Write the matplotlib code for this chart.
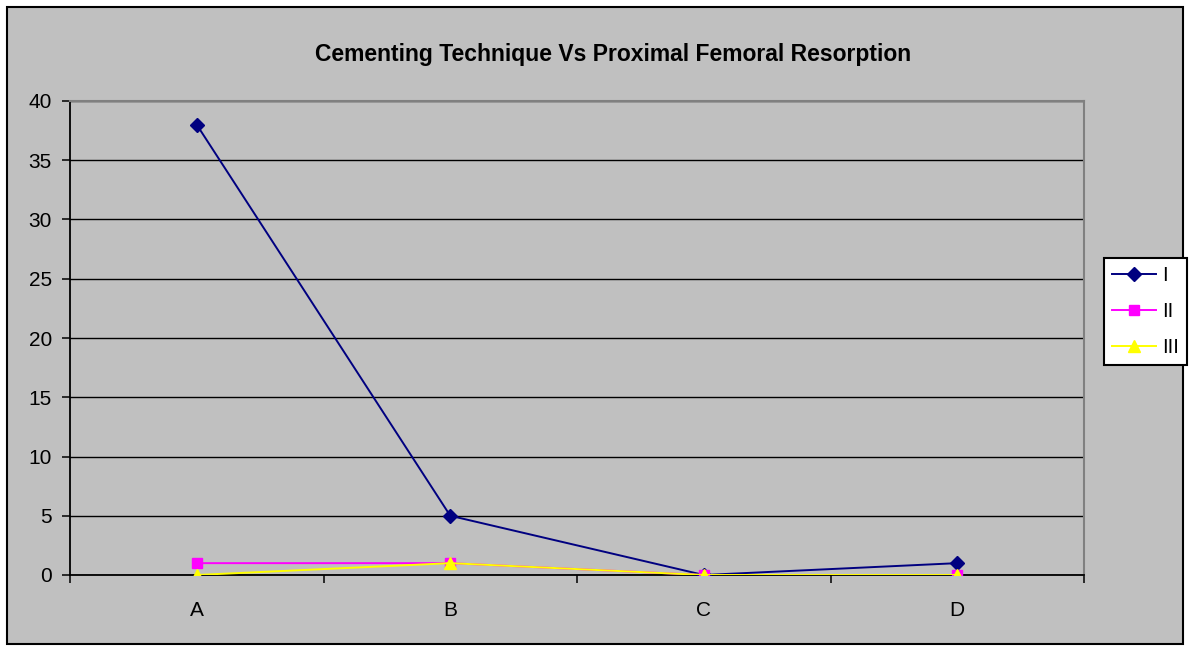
import numpy as np
import matplotlib.pyplot as plt
from matplotlib.patches import Rectangle

plt.rcParams['font.family'] = ['Liberation Sans', 'DejaVu Sans']

categories = ['A', 'B', 'C', 'D']
series_I = [38, 5, 0, 1]
series_II = [1, 1, 0, 0]
series_III = [0, 1, 0, 0]
yticks = [0, 5, 10, 15, 20, 25, 30, 35, 40]

fig = plt.figure(figsize=(11.9, 6.48), dpi=100)
fig.patch.set_facecolor('white')
# chart area frame
fig.patches.append(Rectangle((7/1190, 4/648), 1176/1190, 637/648, transform=fig.transFigure,
                             facecolor='#C0C0C0', edgecolor='black', linewidth=1.5, zorder=-1))

ax = fig.add_axes([70/1190, 1 - 575/648, (1084 - 70)/1190, (575 - 101)/648])
ax.set_facecolor('#C0C0C0')
x = np.arange(len(categories))

ax.plot(x, series_I, color='#000080', marker='D', markersize=7.5, linewidth=1.4, label='I', zorder=3)
ax.plot(x, series_II, color='#FF00FF', marker='s', markersize=7.5, linewidth=1.4, label='II', zorder=4)
ax.plot(x, series_III, color='#FFFF00', marker='^', markersize=9, linewidth=1.4, label='III', zorder=5)

ax.set_xlim(-0.5, 3.5)
ax.set_ylim(0, 40)
ax.set_yticks(yticks)
ax.set_yticklabels([str(v) for v in yticks], fontsize=15)
ax.set_xticks(x)
ax.set_xticklabels(categories, fontsize=15)
ax.set_xticks(np.arange(-0.5, 4, 1), minor=True)
ax.tick_params(axis='x', which='major', length=0, pad=19)
ax.tick_params(axis='x', which='minor', length=6, width=1.1, direction='out')
ax.tick_params(axis='y', length=6, width=1.1, direction='out', pad=7)
ax.grid(axis='y', color='black', linewidth=1.0, zorder=1)
ax.set_axisbelow(True)

for s in ['top', 'right']:
    ax.spines[s].set_color('#808080')
    ax.spines[s].set_linewidth(1.5)
for s in ['left', 'bottom']:
    ax.spines[s].set_color('black')
    ax.spines[s].set_linewidth(1.3)

fig.text(613/1190, 1 - 55/648, 'Cementing Technique Vs Proximal Femoral Resorption',
         ha='center', va='center', fontsize=16.5, fontweight='bold')

leg = ax.legend(loc='upper left', bbox_to_anchor=(1104/1190, 1 - 258/648),
                bbox_transform=fig.transFigure, fontsize=14.5, frameon=True, fancybox=False,
                edgecolor='black', framealpha=1, handlelength=2.2, borderpad=0.4, labelspacing=0.85,
                handletextpad=0.3, borderaxespad=0)
leg.get_frame().set_linewidth(1.5)

fig.savefig('out.png', dpi=100, facecolor=fig.get_facecolor())
